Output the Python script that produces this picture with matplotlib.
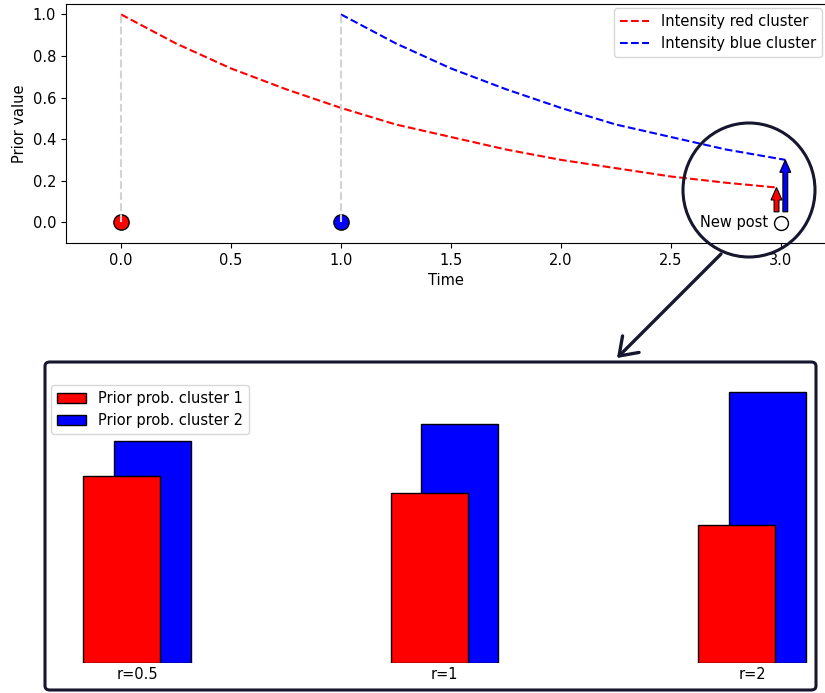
import matplotlib.pyplot as plt
from matplotlib.patches import Ellipse, FancyBboxPatch, FancyArrowPatch

plt.rcParams['font.size'] = 10.5

# decay curves
t_red = [0.0, 0.25, 0.5, 0.75, 1.0, 1.25, 1.5, 1.75, 2.0, 2.25, 2.5, 2.75, 2.98]
red_int = [1.0, 0.86, 0.74, 0.64, 0.55, 0.47, 0.41, 0.35, 0.30, 0.26, 0.22, 0.19, 0.167]
t_blue = [1.0, 1.25, 1.5, 1.75, 2.0, 2.25, 2.5, 2.75, 3.02]
blue_int = [1.0, 0.86, 0.74, 0.64, 0.55, 0.47, 0.41, 0.35, 0.30]

events_t = [0.0, 1.0]
event_cols = ['red', 'blue']
new_post_t = 3.0

# priors for the new post
r_labels = ['r=0.5', 'r=1', 'r=2']
prior_1 = [0.457, 0.416, 0.337]
prior_2 = [0.543, 0.584, 0.663]

W, H = 825, 693
navy = '#16162e'
fig = plt.figure(figsize=(W / 100, H / 100), dpi=100)

def fr(x0, y0, x1, y1):
    # pixel box (from top-left) to figure fraction rect
    return [x0 / W, 1 - y1 / H, (x1 - x0) / W, (y1 - y0) / H]

ax = fig.add_axes(fr(66, 4, 826, 243))
for t in events_t:
    ax.plot([t, t], [0, 1], '--', color='lightgray', lw=1.5, zorder=3)
for t, c in zip(events_t, event_cols):
    ax.plot(t, 0, 'o', color=c, mec='black', ms=11, zorder=2)
ax.plot(t_red, red_int, '--', color='red', lw=1.5, label='Intensity red cluster')
ax.plot(t_blue, blue_int, '--', color='blue', lw=1.5, label='Intensity blue cluster')
ax.arrow(t_red[-1], 0.05, 0, red_int[-1] - 0.05, width=0.022, head_width=0.05,
         head_length=0.06, length_includes_head=True, fc='red', ec='black', lw=0.8, zorder=4)
ax.arrow(t_blue[-1], 0.05, 0, blue_int[-1] - 0.05, width=0.022, head_width=0.05,
         head_length=0.06, length_includes_head=True, fc='blue', ec='black', lw=0.8, zorder=4)
ax.plot(new_post_t, -0.005, 'o', color='white', mec='black', ms=10, zorder=4)
ax.text(new_post_t - 0.06, 0, 'New post', ha='right', va='center')
ax.set_xlim(-0.25, 3.205)
ax.set_ylim(-0.1, 1.05)
ax.set_xticks([0.0, 0.5, 1.0, 1.5, 2.0, 2.5, 3.0])
ax.set_yticks([0.0, 0.2, 0.4, 0.6, 0.8, 1.0])
ax.set_xlabel('Time')
ax.set_ylabel('Prior value')
ax.legend(loc='upper right', borderaxespad=0.3)

# magnifier circle and pointer
fig.add_artist(Ellipse((749 / W, 1 - 190 / H), 132 / W, 134 / H, fill=False,
                       ec=navy, lw=2.2, transform=fig.transFigure, zorder=10))
fig.add_artist(FancyArrowPatch((723 / W, 1 - 252 / H), (615 / W, 1 - 360 / H),
                               transform=fig.transFigure, arrowstyle='->,head_length=0.5,head_width=0.35',
                               mutation_scale=24, color=navy, lw=2.4))
fig.add_artist(FancyBboxPatch((45 / W, 1 - 690 / H), 771 / W, 328 / H,
                              boxstyle='round,pad=0,rounding_size=0.006',
                              fill=False, ec=navy, lw=2.2, transform=fig.transFigure))

bx = fig.add_axes(fr(50, 378, 812, 663))
xs = range(len(r_labels))
bx.bar([x + 0.05 for x in xs], prior_2, width=0.25, color='blue', ec='black',
       label='Prior prob. cluster 2', zorder=1)
bx.bar([x - 0.05 for x in xs], prior_1, width=0.25, color='red', ec='black',
       label='Prior prob. cluster 1', zorder=2)
bx.set_xlim((50 - 137) / 307.5, (812 - 137) / 307.5)
bx.set_ylim(0, 0.696)
bx.set_xticks(list(xs))
bx.set_xticklabels(r_labels)
bx.tick_params(length=0, pad=3)
bx.set_yticks([])
for s in bx.spines.values():
    s.set_visible(False)
h, l = bx.get_legend_handles_labels()
bx.legend(h[::-1], l[::-1], loc='upper left', bbox_to_anchor=(-0.008, 1.0))

fig.savefig('out.png', dpi=100)
